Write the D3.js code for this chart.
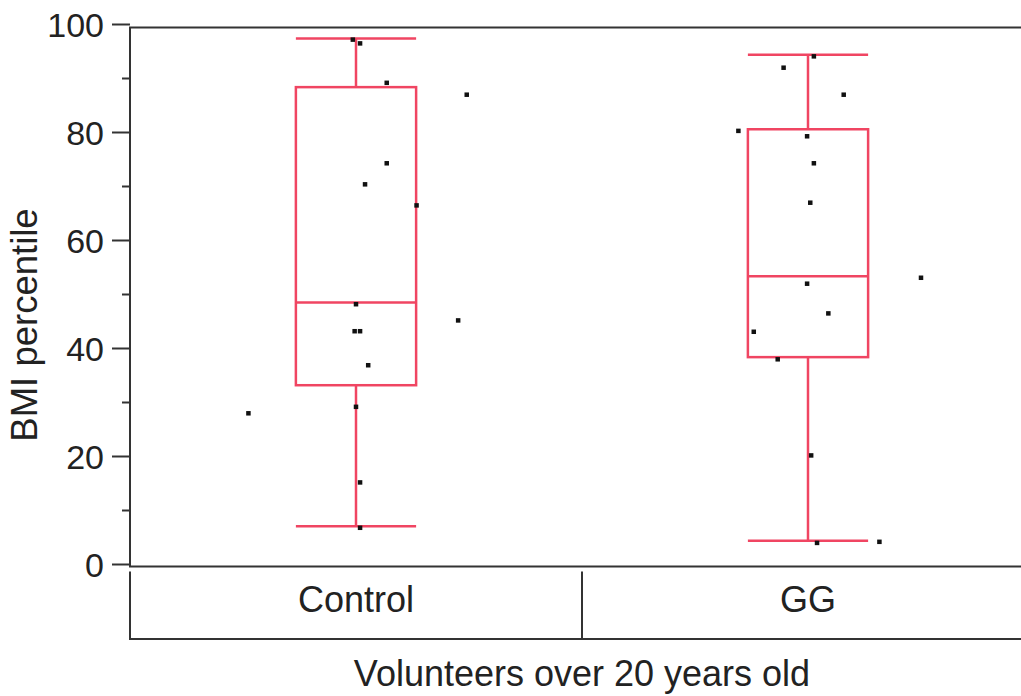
<!DOCTYPE html>
<html>
<head>
<meta charset="utf-8">
<script src="https://cdn.jsdelivr.net/npm/d3@7"></script>
<style>
  body { margin: 0; background: #fff; }
  text { font-family: "Liberation Sans", Arial, sans-serif; fill: #222; }
</style>
</head>
<body>
<div id="container"></div>
<script>
// ---- data ----
let categories = ["Control", "GG"];

// BMI percentile of each volunteer, with its horizontal jitter (fraction of the band)
let controlValues = [96.5, 97.2, 89.2, 87.0, 74.3, 70.4, 66.5, 48.2, 43.2, 43.2, 45.2, 36.9, 28.0, 29.2, 15.2, 6.8];
let controlJitter = [0.009, -0.007, 0.068, 0.245, 0.068, 0.020, 0.134, 0, -0.003, 0.009, 0.226, 0.027, -0.238, 0, 0.009, 0.009];
let ggValues = [94.1, 92.0, 87.0, 80.3, 79.3, 74.3, 67.0, 53.1, 52.0, 46.5, 43.1, 38.0, 20.2, 4.0, 4.2];
let ggJitter = [0.013, -0.054, 0.079, -0.154, -0.002, 0.013, 0.005, 0.250, -0.002, 0.045, -0.120, -0.067, 0.007, 0.020, 0.158];

// box plot summary per group (as drawn)
let whiskerLow = [7.1, 4.4];
let quartile1 = [33.2, 38.4];
let medians = [48.5, 53.4];
let quartile3 = [88.4, 80.6];
let whiskerHigh = [97.4, 94.4];

let yTicks = [0, 20, 40, 60, 80, 100];
let yMinorTicks = [10, 30, 50, 70, 90];

let w = 1021;
let h = 696;
let left = 130;
let right = 1034;
let red = "#f04562";
let frameColor = "#333";

let viz = d3.select("#container")
  .append("svg")
    .attr("width", w)
    .attr("height", h)
;

let xScale = d3.scaleBand().domain(categories).range([left, right]).padding(0);
let yScale = d3.scaleLinear().domain([0, 100]).range([564.5, 24.5]);
let bw = xScale.bandwidth();
let boxW = bw * 0.266;

// frame of the plot area (right side runs off the picture)
let frameTop = yScale(100) + 3;
let frameBottom = yScale(0) + 2;
viz.append("path")
  .attr("d", "M" + (w + 20) + "," + frameTop + "H" + left + "V" + frameBottom + "H" + (w + 20))
  .attr("fill", "none")
  .attr("stroke", frameColor)
  .attr("stroke-width", 2)
;

// y axis ticks
let yAxisGroup = viz.append("g").attr("class", "yaxis");
yAxisGroup.selectAll(".major").data(yTicks).enter()
  .append("line")
    .attr("x1", left - 18).attr("x2", left)
    .attr("y1", d => yScale(d)).attr("y2", d => yScale(d))
    .attr("stroke", frameColor).attr("stroke-width", 2)
;
yAxisGroup.selectAll(".minor").data(yMinorTicks).enter()
  .append("line")
    .attr("x1", left - 8).attr("x2", left)
    .attr("y1", d => yScale(d)).attr("y2", d => yScale(d))
    .attr("stroke", frameColor).attr("stroke-width", 2)
;
yAxisGroup.selectAll("text").data(yTicks).enter()
  .append("text")
    .text(d => d)
    .attr("x", left - 26)
    .attr("y", d => yScale(d))
    .attr("dy", "0.36em")
    .attr("text-anchor", "end")
    .attr("font-size", "34px")
;

viz.append("text")
  .text("BMI percentile")
  .attr("transform", "translate(37, 325) rotate(-90)")
  .attr("text-anchor", "middle")
  .attr("font-size", "36.5px")
;

// category box under the plot
let catTop = frameBottom + 5;
let catBottom = 639;
viz.append("path")
  .attr("d", "M" + left + "," + catTop + "V" + catBottom + "H" + (w + 20))
  .attr("fill", "none")
  .attr("stroke", frameColor)
  .attr("stroke-width", 2)
;
viz.append("line")
  .attr("x1", xScale("GG")).attr("x2", xScale("GG"))
  .attr("y1", catTop).attr("y2", catBottom)
  .attr("stroke", frameColor).attr("stroke-width", 2)
;
viz.selectAll(".catlabel").data(categories).enter()
  .append("text")
    .attr("class", "catlabel")
    .text(d => d)
    .attr("x", d => xScale(d) + bw / 2)
    .attr("y", 612)
    .attr("text-anchor", "middle")
    .attr("font-size", "36px")
;

viz.append("text")
  .text("Volunteers over 20 years old")
  .attr("x", 582)
  .attr("y", 686)
  .attr("text-anchor", "middle")
  .attr("font-size", "36px")
;

// box plots
let boxGroup = viz.append("g").attr("class", "boxes");
categories.forEach(function(c, i){
  let cx = xScale(c) + bw / 2;
  let g = boxGroup.append("g");
  function line(x1, y1, x2, y2){
    g.append("line")
      .attr("x1", x1).attr("y1", y1).attr("x2", x2).attr("y2", y2)
      .attr("stroke", red).attr("stroke-width", 2.5);
  }
  line(cx, yScale(whiskerHigh[i]), cx, yScale(quartile3[i]));
  line(cx, yScale(quartile1[i]), cx, yScale(whiskerLow[i]));
  line(cx - boxW / 2, yScale(whiskerHigh[i]), cx + boxW / 2, yScale(whiskerHigh[i]));
  line(cx - boxW / 2, yScale(whiskerLow[i]), cx + boxW / 2, yScale(whiskerLow[i]));
  g.append("rect")
    .attr("x", cx - boxW / 2)
    .attr("y", yScale(quartile3[i]))
    .attr("width", boxW)
    .attr("height", yScale(quartile1[i]) - yScale(quartile3[i]))
    .attr("fill", "none")
    .attr("stroke", red).attr("stroke-width", 2.5);
  line(cx - boxW / 2, yScale(medians[i]), cx + boxW / 2, yScale(medians[i]));
});

// points
let points = [];
controlValues.forEach((v, i) => points.push({ cat: "Control", v: v, j: controlJitter[i] }));
ggValues.forEach((v, i) => points.push({ cat: "GG", v: v, j: ggJitter[i] }));

viz.append("g").attr("class", "points")
  .selectAll("rect").data(points).enter()
  .append("rect")
    .attr("x", d => xScale(d.cat) + bw / 2 + d.j * bw - 2.25)
    .attr("y", d => yScale(d.v) - 2.25)
    .attr("width", 4.5)
    .attr("height", 4.5)
    .attr("fill", "#111")
;
</script>
</body>
</html>
